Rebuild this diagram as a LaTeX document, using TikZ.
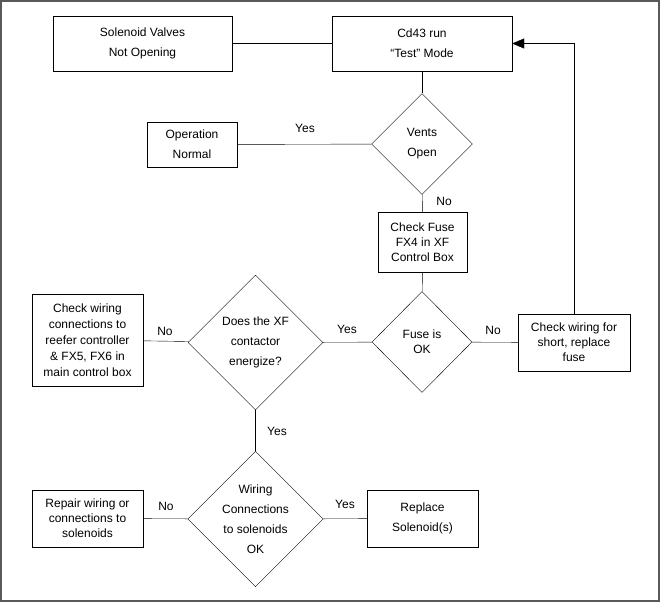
\documentclass[tikz,border=0pt]{standalone}
\usepackage{fontspec}
\setmainfont{Liberation Sans}
\usetikzlibrary{shapes.geometric,arrows.meta}
\tikzset{
  box/.style={draw, align=center, inner sep=0pt, font=\fontsize{12}{16}\selectfont},
  dia/.style={draw, diamond, align=center, inner sep=0pt, font=\fontsize{12}{16}\selectfont},
  lbl/.style={font=\fontsize{12}{14}\selectfont}
}
\begin{document}
\begin{tikzpicture}[x=1pt,y=-1pt]
			%frame
			\draw[gray!70!black, line width=2pt] (1,1) rectangle (659,601);
			\useasboundingbox (0,0) rectangle (660,602);
			%top row
			\node[box, minimum width=179, minimum height=55, font=\fontsize{12}{20}\selectfont](sol) at (142.5,43.5){Solenoid Valves\\Not Opening};
			\node[box, minimum width=180, minimum height=55, font=\fontsize{12}{20}\selectfont](test) at (422,43.5){Cd43 run\\``Test'' Mode};
			%vents
			\node[dia, minimum width=101, minimum height=101, font=\fontsize{12}{20}\selectfont](vent) at (422,144){Vents\\Open};
			\node[box, minimum width=90, minimum height=45, font=\fontsize{12}{20}\selectfont](norm) at (192,144.5){Operation\\Normal};
			\node[box, minimum width=89, minimum height=60, font=\fontsize{12}{15}\selectfont](fuse) at (422.5,242){Check Fuse\\FX4 in XF\\Control Box};
			%middle row
			\node[dia, minimum width=100, minimum height=101, font=\fontsize{12}{15}\selectfont](ok) at (422,342){Fuse is\\OK};
			\node[box, minimum width=112, minimum height=57, font=\fontsize{12}{15}\selectfont](short) at (574,342.5){Check wiring for\\short, replace\\fuse};
			\node[dia, minimum width=135, minimum height=135, font=\fontsize{12}{20}\selectfont](xf) at (255.5,342.5){Does the XF\\contactor\\energize?};
			\node[box, minimum width=111, minimum height=92](chk) at (87.5,340){Check wiring\\connections to\\reefer controller\\\& FX5, FX6 in\\main control box};
			%bottom row
			\node[dia, minimum width=135, minimum height=134, font=\fontsize{12}{20}\selectfont](wir) at (255.5,519){Wiring\\Connections\\to solenoids\\OK};
			\node[box, minimum width=111, minimum height=57, font=\fontsize{12}{15}\selectfont](rep) at (87.5,518.5){Repair wiring or\\connections to\\solenoids};
			\node[box, minimum width=111, minimum height=57, font=\fontsize{12}{20}\selectfont](repl) at (422.5,518.5){Replace\\Solenoid(s)};
			%connectors
			\draw (sol) -- (test);
			\draw (test) -- (vent);
			\draw (vent) -- (norm);
			\draw (vent) -- (fuse);
			\draw (fuse) -- (ok);
			\draw (ok) -- (short);
			\draw (ok) -- (xf);
			\draw (xf) -- (chk);
			\draw (xf) -- (wir);
			\draw (wir) -- (rep);
			\draw (wir) -- (repl);
			\draw[-{Triangle[length=12pt,width=10pt]}] (short.north) |- (test.east);
			%labels
			\node[lbl](y1) at (305,128){Yes};
			\node[lbl](n1) at (444,201){No};
			\node[lbl](y2) at (347,329){Yes};
			\node[lbl](n2) at (493,330){No};
			\node[lbl](n3) at (165,331){No};
			\node[lbl](y3) at (277,431){Yes};
			\node[lbl](n4) at (166,506){No};
			\node[lbl](y4) at (345,504){Yes};
\end{tikzpicture}
\end{document}
